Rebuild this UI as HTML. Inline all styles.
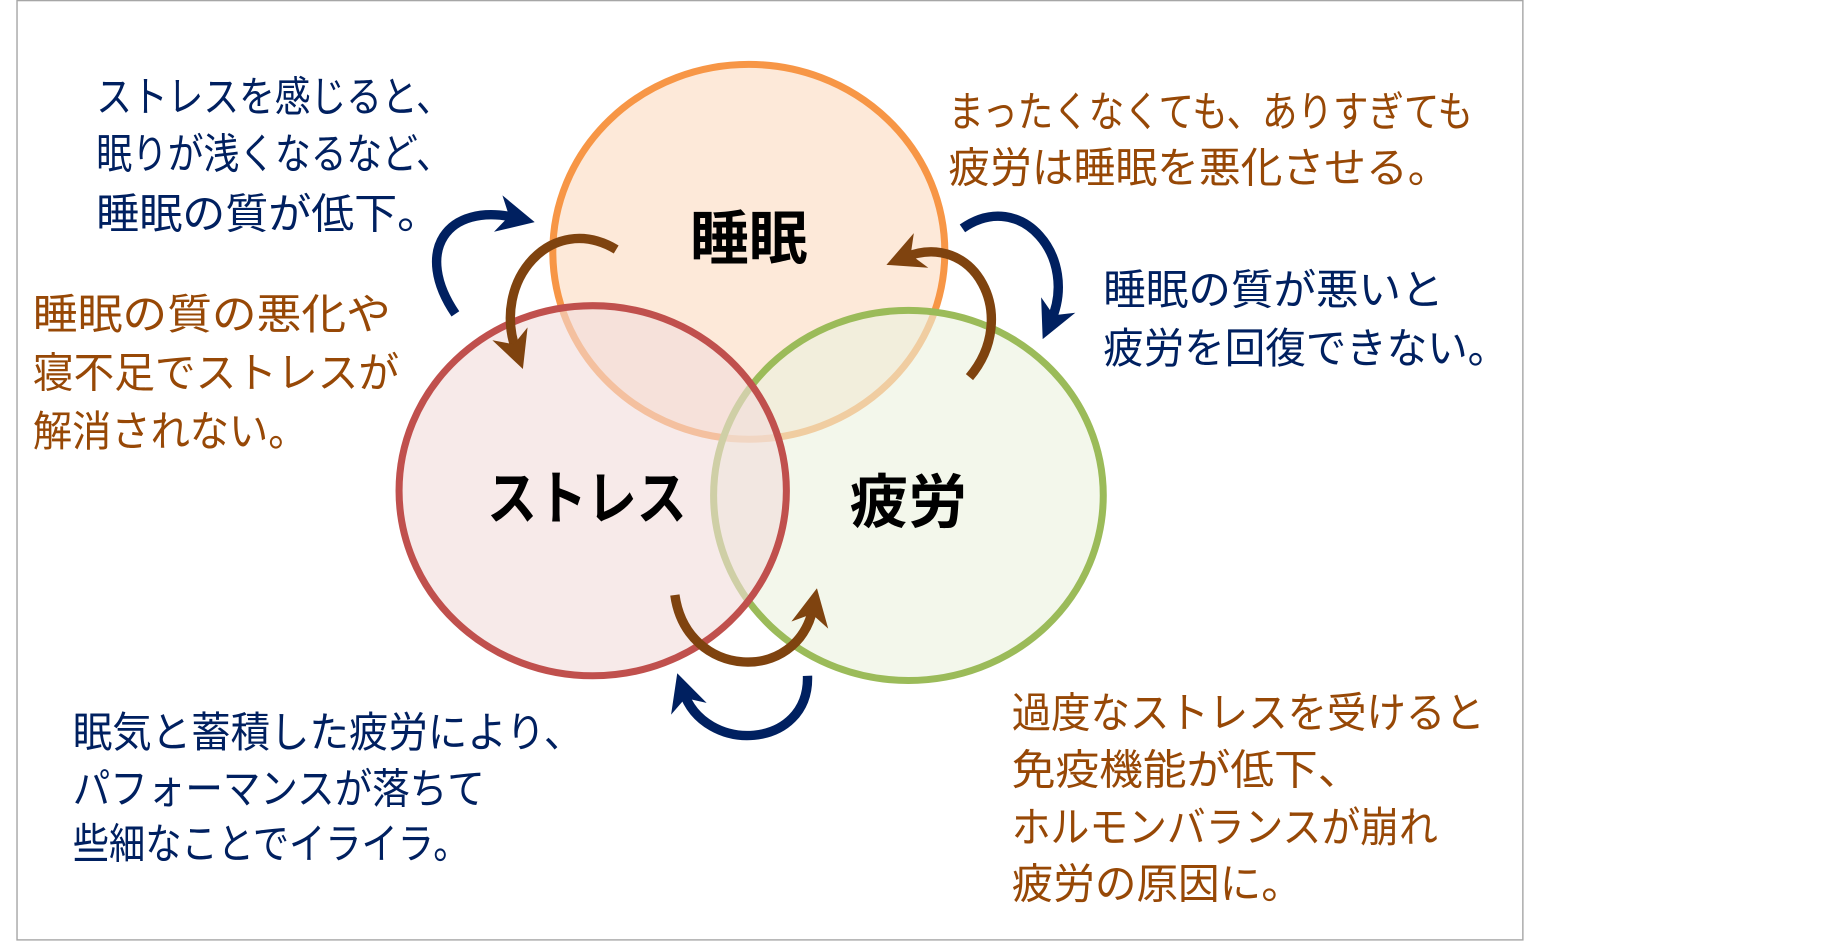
<!DOCTYPE html>
<html><head><meta charset="utf-8"><style>
html,body{margin:0;padding:0;background:#fff;}
svg{display:block;}
text{font-family:"Liberation Sans","Noto Sans CJK JP",sans-serif;}
</style></head><body>
<svg width="1838" height="944" viewBox="0 0 1566 806" preserveAspectRatio="none" xmlns="http://www.w3.org/2000/svg">
<defs>
<marker id="an" viewBox="0 0 10 10" refX="5" refY="5" markerWidth="4" markerHeight="4" orient="auto"><path d="M0,0 L10,5 L0,10 L3,5 z" fill="#002060"/></marker>
<marker id="ab" viewBox="0 0 10 10" refX="5" refY="5" markerWidth="4" markerHeight="4" orient="auto"><path d="M0,0 L10,5 L0,10 L3,5 z" fill="#7f430f"/></marker>
</defs>
<rect x="14.5" y="0.5" width="1283" height="802" fill="#fff" stroke="#a6a6a6" stroke-width="1.2"/>
<ellipse cx="638" cy="215" rx="167" ry="160" fill="#fde9d9" stroke="#f79646" stroke-width="6"/>
<ellipse cx="774" cy="423" rx="166" ry="158" fill="#ebf1de" fill-opacity="0.6" stroke="#9bbb59" stroke-width="6"/>
<ellipse cx="505" cy="419" rx="165" ry="158" fill="#f2dcdb" fill-opacity="0.6" stroke="#c0504d" stroke-width="6"/>
<g fill="none" stroke-width="8">
<path d="M388,268 C352,215 380,172 440,186" stroke="#002060" marker-end="url(#an)"/>
<path d="M525,213 C470,180 418,240 440,300" stroke="#7f430f" marker-end="url(#ab)"/>
<path d="M820,195 C870,160 920,220 895,275" stroke="#002060" marker-end="url(#an)"/>
<path d="M826,322 C870,270 830,195 770,220" stroke="#7f430f" marker-end="url(#ab)"/>
<path d="M575,508 C585,580 680,585 693,518" stroke="#7f430f" marker-end="url(#ab)"/>
<path d="M688,577 C690,640 600,645 582,590" stroke="#002060" marker-end="url(#an)"/>
</g>
<g font-weight="bold" font-size="50" fill="#000" text-anchor="middle">
<text x="638" y="221">睡眠</text>
<text x="500" y="443" textLength="170" lengthAdjust="spacingAndGlyphs">ストレス</text>
<text x="774" y="446">疲労</text>
</g>
<g font-size="36">
<g fill="#002060">
<text x="82" y="95" textLength="303" lengthAdjust="spacingAndGlyphs">ストレスを感じると、</text>
<text x="82" y="144" textLength="303" lengthAdjust="spacingAndGlyphs">眠りが浅くなるなど、</text>
<text x="82" y="195" textLength="293" lengthAdjust="spacingAndGlyphs">睡眠の質が低下。</text>
<text x="940" y="260" textLength="290" lengthAdjust="spacingAndGlyphs">睡眠の質が悪いと</text>
<text x="940" y="310" textLength="345" lengthAdjust="spacingAndGlyphs">疲労を回復できない。</text>
<text x="62" y="638" textLength="435" lengthAdjust="spacingAndGlyphs">眠気と蓄積した疲労により、</text>
<text x="62" y="686" textLength="351" lengthAdjust="spacingAndGlyphs">パフォーマンスが落ちて</text>
<text x="62" y="733" textLength="338" lengthAdjust="spacingAndGlyphs">些細なことでイライラ。</text>
</g>
<g fill="#974806">
<text x="808" y="108" textLength="447" lengthAdjust="spacingAndGlyphs">まったくなくても、ありすぎても</text>
<text x="808" y="156" textLength="427" lengthAdjust="spacingAndGlyphs">疲労は睡眠を悪化させる。</text>
<text x="28" y="281" textLength="305" lengthAdjust="spacingAndGlyphs">睡眠の質の悪化や</text>
<text x="28" y="331" textLength="312" lengthAdjust="spacingAndGlyphs">寝不足でストレスが</text>
<text x="28" y="381" textLength="234" lengthAdjust="spacingAndGlyphs">解消されない。</text>
<text x="862" y="621" textLength="403" lengthAdjust="spacingAndGlyphs">過度なストレスを受けると</text>
<text x="862" y="670" textLength="298" lengthAdjust="spacingAndGlyphs">免疫機能が低下、</text>
<text x="862" y="719" textLength="363" lengthAdjust="spacingAndGlyphs">ホルモンバランスが崩れ</text>
<text x="862" y="767" textLength="248" lengthAdjust="spacingAndGlyphs">疲労の原因に。</text>
</g>
</g>
</svg>
</body></html>
